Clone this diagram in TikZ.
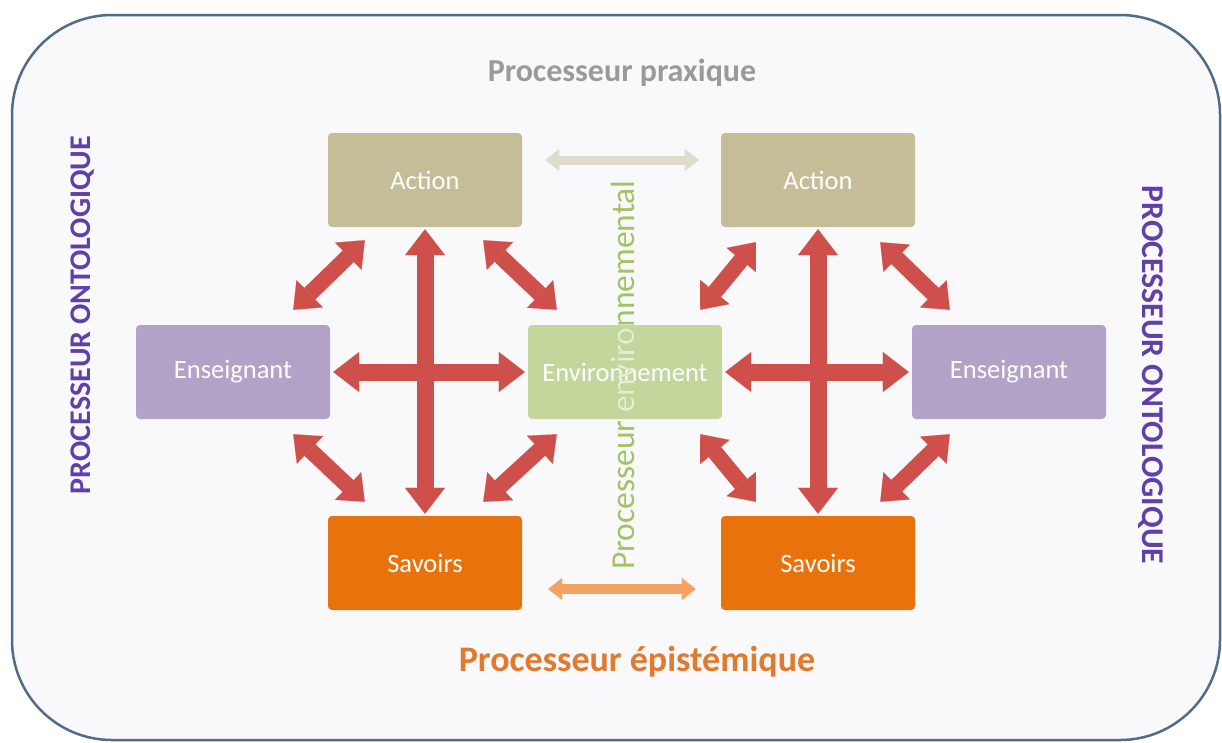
\documentclass[tikz,border=0pt]{standalone}
\usepackage{fontspec}
\setmainfont{Carlito}
\usetikzlibrary{arrows.meta,calc}
\definecolor{framec}{HTML}{4F6D8A}
\definecolor{bgc}{HTML}{F9F9FB}
\definecolor{actc}{HTML}{C4BD97}
\definecolor{ensc}{HTML}{B3A2C7}
\definecolor{envc}{HTML}{C3D69B}
\definecolor{savc}{HTML}{E8720C}
\definecolor{redc}{HTML}{CF4F4B}
\definecolor{tanarrow}{HTML}{E0DCCB}
\definecolor{orarrow}{HTML}{F5A262}
\definecolor{grayt}{HTML}{9A9A9A}
\definecolor{oranget}{HTML}{E07A2E}
\definecolor{purplet}{HTML}{6040A8}
\definecolor{greent}{HTML}{A3C263}
\definecolor{greenlight}{HTML}{E6EFD4}
\tikzset{
  box/.style={rectangle, rounded corners=4pt, minimum width=194pt, minimum height=94pt,
    text=white, font=\fontsize{26.5}{30}\selectfont, inner sep=0pt},
  fat/.style={draw=redc, line width=17pt,
    {Triangle[width=40pt,length=26pt,line width=0.1pt]}-{Triangle[width=40pt,length=26pt,line width=0.1pt]},
    shorten <=2pt, shorten >=2pt},
  diag/.style={draw=redc, line width=16pt,
    {Triangle[width=38pt,length=23pt,line width=0.1pt]}-{Triangle[width=38pt,length=23pt,line width=0.1pt]}},
  thinarrow/.style={line width=9pt,
    {Triangle[width=22pt,length=14pt,line width=0.1pt]}-{Triangle[width=22pt,length=14pt,line width=0.1pt]}},
  titletext/.style={font=\bfseries\fontsize{#1}{#1}\selectfont, inner sep=0pt},
  envlabel/.style={font=\fontsize{33.5}{33.5}\selectfont, inner sep=0pt, rotate=90},
}
\begin{document}
\begin{tikzpicture}[x=1pt,y=-1pt]
\useasboundingbox (0,0) rectangle (1222,742);
\fill[white] (0,0) rectangle (1222,742);
\draw[framec, line width=2.5pt, fill=bgc, rounded corners=100pt] (12,15) rectangle (1220,740);

% boxes
\node[box, fill=actc] (actL) at (425,180) {Action};
\node[box, fill=actc] (actR) at (818,180) {Action};
\node[box, fill=ensc] (ensL) at (233,372) {Enseignant};
\node[box, fill=envc] (env) at (625,372) {Environnement};
\node[box, fill=ensc] (ensR) at (1009,372) {Enseignant};
\node[box, fill=savc] (savL) at (425,563) {Savoirs};
\node[box, fill=savc] (savR) at (818,563) {Savoirs};

% left group
\draw[fat] (actL) -- (savL);
\draw[fat, shorten <=3pt, shorten >=3pt] (ensL) -- (env);
\draw[diag] ($(actL.south west)+(37,13)$) -- ($(ensL.north east)+(-37,-15)$);
\draw[diag] ($(actL.south east)+(-39,13)$) -- ($(env.north west)+(29,-15)$);
\draw[diag] ($(ensL.south east)+(-37,15)$) -- ($(savL.north west)+(37,-14)$);
\draw[diag] ($(env.south west)+(29,15)$) -- ($(savL.north east)+(-39,-14)$);
% right group
\draw[fat] (actR) -- (savR);
\draw[fat, shorten <=3pt, shorten >=3pt] (env) -- (ensR);
\draw[diag] ($(actR.south west)+(35,15)$) -- ($(env.north east)+(-22,-15)$);
\draw[diag] ($(actR.south east)+(-35,15)$) -- ($(ensR.north west)+(38,-15)$);
\draw[diag] ($(env.south east)+(-22,15)$) -- ($(savR.north west)+(35,-14)$);
\draw[diag] ($(ensR.south west)+(38,15)$) -- ($(savR.north east)+(-35,-14)$);

% links between groups
\draw[thinarrow, draw=tanarrow] ($(actL.east)+(23,-20)$) -- ($(actR.west)+(-22,-20)$);
\draw[thinarrow, draw=orarrow, line width=10pt] ($(savL.east)+(26,26)$) -- ($(savR.west)+(-25,26)$);

% labels
\node[titletext=32, text=grayt] (praxique) at (622,73) {Processeur praxique};
\node[titletext=36, text=oranget] (episteme) at (637,662) {Processeur épistémique};
\node[titletext=30, text=purplet, rotate=90] (ontoL) at (83,315) {PROCESSEUR ONTOLOGIQUE};
\node[titletext=31.7, text=purplet, rotate=-90] (ontoR) at (1151,375) {PROCESSEUR ONTOLOGIQUE};
\node[envlabel, text=greent] (envtxt) at (623,375) {Processeur environnemental};
\begin{scope}
  \clip (env.south west) rectangle (env.north east);
  \node[envlabel, text=greenlight] (envtxtb) at (623,375) {Processeur environnemental};
\end{scope}
\end{tikzpicture}
\end{document}
